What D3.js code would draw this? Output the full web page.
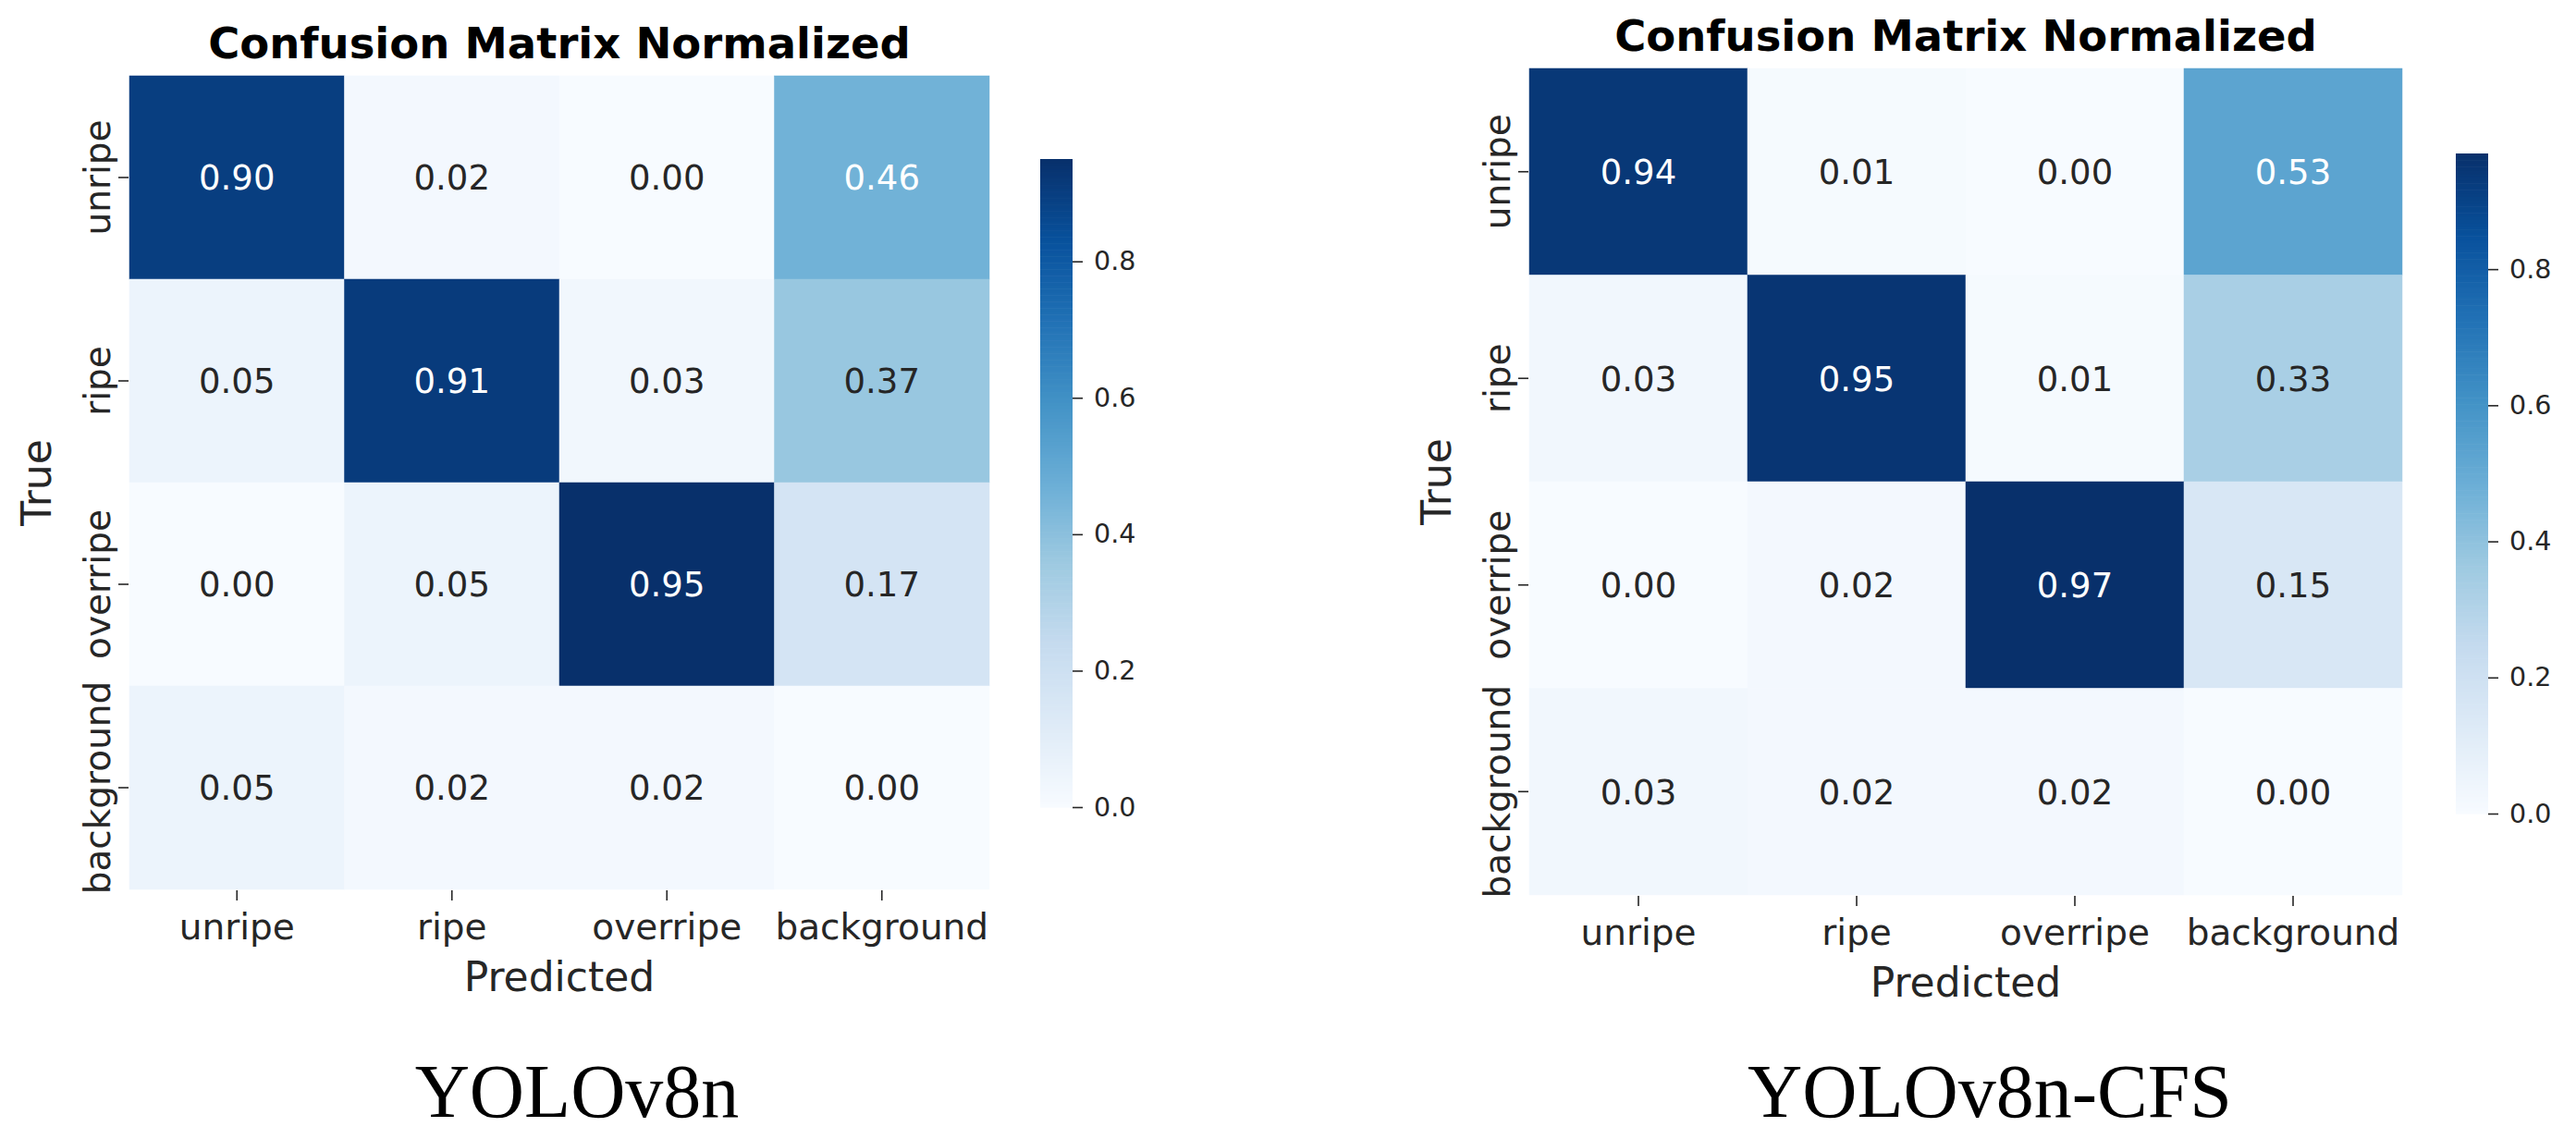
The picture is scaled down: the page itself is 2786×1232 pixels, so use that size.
<!DOCTYPE html>
<html>
<head>
<meta charset="utf-8">
<script src="https://cdn.jsdelivr.net/npm/d3@7"></script>
<style>
  body { margin: 0; background: #fff; }
  svg { display: block; }
</style>
</head>
<body>
<script>
var categories = ["unripe", "ripe", "overripe", "background"];
var yolov8nValues = [
    [0.90, 0.02, 0.00, 0.46],
    [0.05, 0.91, 0.03, 0.37],
    [0.00, 0.05, 0.95, 0.17],
    [0.05, 0.02, 0.02, 0.00]
];
var yolov8nCfsValues = [
    [0.94, 0.01, 0.00, 0.53],
    [0.03, 0.95, 0.01, 0.33],
    [0.00, 0.02, 0.97, 0.15],
    [0.03, 0.02, 0.02, 0.00]
];
var colorbarTicks = [0, 0.2, 0.4, 0.6, 0.8];
var chartTitle = "Confusion Matrix Normalized";
var xLabel = "Predicted";
var yLabel = "True";
var captions = ["YOLOv8n", "YOLOv8n-CFS"];

// matplotlib "Blues" anchors
var blues = ["#f7fbff", "#deebf7", "#c6dbef", "#9ecae1", "#6baed6",
             "#4292c6", "#2171b5", "#08519c", "#08306b"];

var panels = [
    {values: yolov8nValues, caption: captions[0],
     x0: 140, x1: 1070, y0: 82, y1: 962,
     cbX: 1125, cbY0: 172, cbY1: 873, titleY: 63, capX: 624},
    {values: yolov8nCfsValues, caption: captions[1],
     x0: 1654, x1: 2598, y0: 74, y1: 968,
     cbX: 2656, cbY0: 166, cbY1: 880, titleY: 55, capX: 2152}
];

var W = 2786, H = 1232;
var sans = "'DejaVu Sans', sans-serif";
var textCol = "#262626";

var svg = d3.select("body").append("svg")
    .attr("width", W)
    .attr("height", H);

svg.append("rect").attr("width", W).attr("height", H).attr("fill", "#fff");

panels.forEach(function(p) {
    var width = p.x1 - p.x0;
    var height = p.y1 - p.y0;
    var vmax = d3.max(p.values, function(r) { return d3.max(r); });

    var color = d3.scaleLinear()
        .domain(blues.map(function(c, i) { return i / (blues.length - 1) * vmax; }))
        .range(blues)
        .interpolate(d3.interpolateRgb)
        .clamp(true);

    var x = d3.scaleBand().domain(categories).range([0, width]).padding(0);
    var y = d3.scaleBand().domain(categories).range([0, height]).padding(0);

    var g = svg.append("g")
        .attr("transform", "translate(" + p.x0 + "," + p.y0 + ")");

    var cells = [];
    p.values.forEach(function(row, i) {
        row.forEach(function(v, j) {
            cells.push({t: categories[i], pr: categories[j], v: v});
        });
    });

    g.selectAll(".cell")
        .data(cells)
        .enter().append("rect")
        .attr("class", "cell")
        .attr("x", function(d) { return x(d.pr); })
        .attr("y", function(d) { return y(d.t); })
        .attr("width", x.bandwidth())
        .attr("height", y.bandwidth())
        .attr("fill", function(d) { return color(d.v); })
        .attr("stroke", function(d) { return color(d.v); })
        .attr("stroke-width", 0.5);

    // seaborn picks white text on dark cells
    function lum(c) {
        var rgb = d3.rgb(c);
        var f = function(u) { u /= 255; return u <= 0.03928 ? u / 12.92 : Math.pow((u + 0.055) / 1.055, 2.4); };
        return 0.2126 * f(rgb.r) + 0.7152 * f(rgb.g) + 0.0722 * f(rgb.b);
    }

    g.selectAll(".annot")
        .data(cells)
        .enter().append("text")
        .attr("class", "annot")
        .attr("x", function(d) { return x(d.pr) + x.bandwidth() / 2; })
        .attr("y", function(d) { return y(d.t) + y.bandwidth() / 2; })
        .attr("dy", "0.36em")
        .attr("text-anchor", "middle")
        .style("font-family", sans)
        .style("font-size", "37px")
        .attr("fill", function(d) { return lum(color(d.v)) < 0.408 ? "#fff" : textCol; })
        .text(function(d) { return d3.format(".2f")(d.v); });

    // x axis
    var xAxis = g.append("g")
        .attr("transform", "translate(0," + (height + 1) + ")")
        .call(d3.axisBottom(x).tickSize(11).tickPadding(12));
    xAxis.select(".domain").remove();
    xAxis.selectAll(".tick line").attr("stroke", textCol).attr("stroke-width", 1.6);
    xAxis.selectAll(".tick text")
        .attr("fill", textCol)
        .attr("dy", "0.76em")
        .style("font-family", sans)
        .style("font-size", "39px");

    // y axis, labels turned on their side
    var yAxis = g.append("g")
        .attr("transform", "translate(-1,0)")
        .call(d3.axisLeft(y).tickSize(11));
    yAxis.select(".domain").remove();
    yAxis.selectAll(".tick line").attr("stroke", textCol).attr("stroke-width", 1.6);
    yAxis.selectAll(".tick text")
        .attr("fill", textCol)
        .attr("x", 0)
        .attr("dy", 0)
        .attr("text-anchor", "middle")
        .attr("transform", "translate(-20,0) rotate(-90)")
        .style("font-family", sans)
        .style("font-size", "39px");

    // titles and labels
    g.append("text")
        .attr("x", width / 2)
        .attr("y", p.titleY - p.y0)
        .attr("text-anchor", "middle")
        .style("font-family", sans)
        .style("font-size", "46.5px")
        .style("font-weight", "bold")
        .attr("fill", "#000")
        .text(chartTitle);

    g.append("text")
        .attr("x", width / 2)
        .attr("y", height + 110)
        .attr("text-anchor", "middle")
        .style("font-family", sans)
        .style("font-size", "44px")
        .attr("fill", textCol)
        .text(xLabel);

    g.append("text")
        .attr("transform", "translate(" + (-85) + "," + (height / 2) + ") rotate(-90)")
        .attr("text-anchor", "middle")
        .style("font-family", sans)
        .style("font-size", "44px")
        .attr("fill", textCol)
        .text(yLabel);

    // colorbar
    var cb = d3.scaleLinear().domain([0, vmax]).range([p.cbY1, p.cbY0]);
    var steps = d3.range(0, 200).map(function(k) { return k / 200 * vmax; });
    var cbW = 35;
    var cbG = svg.append("g").attr("transform", "translate(" + p.cbX + ",0)");
    cbG.selectAll(".cbs")
        .data(steps)
        .enter().append("rect")
        .attr("class", "cbs")
        .attr("x", 0)
        .attr("width", cbW)
        .attr("y", function(d) { return cb(d + vmax / 200); })
        .attr("height", function(d) { return cb(d) - cb(d + vmax / 200) + 0.6; })
        .attr("fill", function(d) { return color(d + vmax / 400); });

    var cbAxis = cbG.append("g")
        .attr("transform", "translate(" + cbW + ",0)")
        .call(d3.axisRight(cb).tickValues(colorbarTicks).tickFormat(d3.format(".1f")).tickSize(11).tickPadding(12));
    cbAxis.select(".domain").remove();
    cbAxis.selectAll(".tick line").attr("stroke", textCol).attr("stroke-width", 1.6);
    cbAxis.selectAll(".tick text")
        .attr("fill", textCol)
        .style("font-family", sans)
        .style("font-size", "28.5px");

    // caption under each panel
    svg.append("text")
        .attr("x", p.capX)
        .attr("y", 1208)
        .attr("text-anchor", "middle")
        .style("font-family", "'Liberation Serif', 'Times New Roman', serif")
        .style("font-size", "82px")
        .attr("fill", "#000")
        .text(p.caption);
});
</script>
</body>
</html>
